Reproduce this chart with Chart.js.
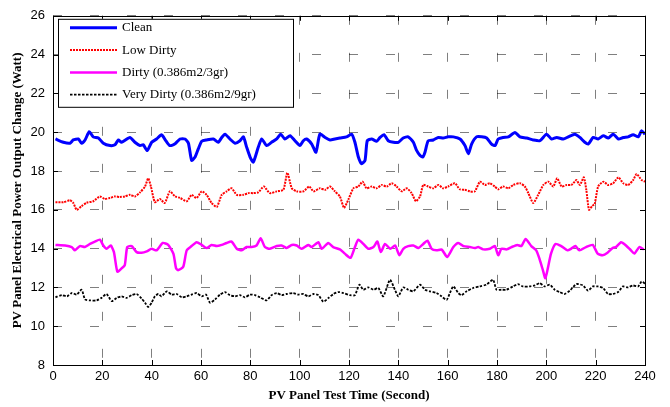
<!DOCTYPE html>
<html lang="en">
<head>
<meta charset="UTF-8">
<title>PV Panel Power Output</title>
<script src="https://cdn.jsdelivr.net/npm/chart.js"></script>
<style>
    body { margin: 0; background: #fff; }
    #wrap { width: 670px; height: 407px; }
</style>
</head>
<body>
<div id="wrap"><canvas id="pvChart" width="670" height="407"></canvas></div>
<script>
// readings taken off the original plot: time (s) and power (W) per panel state
const cleanT = [1,4.2,6.9,8.2,10.3,11.6,13,14.7,16.3,18.4,20.4,23.1,25.1,26.5,27.8,31.2,33.2,35.3,36.6,38.2,40,42,44,45.8,47.4,49.5,51.5,53.5,54.9,56.2,57.6,58.9,60.3,62.3,65,67,68.4,69.7,71.7,73.8,75.8,77.2,78.5,79.9,81.2,83.2,84.6,86.6,88.6,90.7,92.3,94,96.1,98.1,100.1,101.5,102.8,104.9,106.6,108.2,110.3,112.3,114.3,116.3,119,121.1,122.4,123.8,125.1,126.5,127.4,129.2,131.2,132.6,134.2,135.9,138,140,142,144,146.1,147.4,148.8,149.9,150.8,152.1,154.2,156.2,158.2,160.2,162.3,165,167,168.4,169.7,171.7,173.8,175.8,177.8,179.2,180.5,182.5,184.6,187.3,189.3,192,194.7,197.4,200.1,202.1,204.2,206.9,208.9,211.6,213.6,215.6,217,219,221,223.1,225.1,227.1,229.2,231.2,233.2,235.2,237.3,238.6,240];
const cleanW = [19.65,19.48,19.43,19.6,19.65,19.43,19.6,20.03,19.76,19.7,19.43,19.31,19.35,19.6,19.48,19.73,19.48,19.31,19.35,19.05,19.48,19.65,19.87,19.55,19.31,19.4,19.65,19.65,19.43,18.55,18.72,19.14,19.53,19.6,19.65,19.48,19.73,19.9,19.65,19.43,19.56,19.76,19.23,18.72,18.46,19.22,19.65,19.31,19.48,19.65,19.9,19.65,19.82,19.56,19.31,19.56,19.65,19.39,18.97,19.9,19.73,19.6,19.65,19.7,19.76,19.9,19.48,18.72,18.38,18.55,19.56,19.65,19.53,19.73,19.87,19.56,19.48,19.48,19.7,19.76,19.48,19.06,18.8,18.72,18.97,19.56,19.6,19.73,19.7,19.76,19.76,19.65,19.31,18.89,19.39,19.76,19.76,19.7,19.39,19.31,19.65,19.73,19.76,19.98,19.76,19.7,19.6,19.56,19.9,19.65,19.73,19.65,19.76,19.9,19.73,19.48,19.39,19.73,19.65,19.82,19.7,19.9,19.65,19.73,19.76,19.87,19.76,20.07,19.9];

const lowT = [1,4.2,6.9,8.2,9.6,11.6,13.6,16.3,19,21,23.1,25.1,27.1,29.1,31.2,33.2,35.3,37.3,38.6,39.7,41.3,43.3,45.3,47.4,49.5,51.5,54.2,56.2,58.2,60.3,62.3,64.3,66.4,68.4,70.4,72.4,74.5,77.2,79.2,81.2,83.2,85.5,87.9,90.7,93.4,95,96.8,98.8,101.5,103.9,105.6,108.2,110.3,112.3,114.3,116.3,118,119.7,121.8,123.8,125.5,127.1,129.2,131.2,133.3,135.3,137.3,139.3,141.4,143.4,145.4,147.1,148.8,150.1,152.1,154.2,156.2,158.2,160.2,162.9,164.9,167,169,171,173.1,175.1,177.1,179.1,180.5,182.5,184.6,186.6,189.3,191.3,192.7,194.7,196.7,198.8,200.8,202.8,204.4,206.2,208.2,210.2,212.2,213.6,215.2,216.2,217.3,218.6,219.6,221,223.1,225.1,227.1,229.2,231.2,233.2,235.2,236.6,238.6,240];
const lowW = [16.39,16.39,16.49,16.36,16.0,16.19,16.36,16.44,16.69,16.56,16.61,16.69,16.66,16.69,16.77,16.69,16.9,17.2,17.62,17.2,16.39,16.56,16.35,16.95,16.69,16.61,16.44,16.77,16.61,16.95,16.77,16.35,16.15,16.77,16.95,17.11,16.77,16.77,16.86,16.86,16.9,17.2,16.86,16.95,17.03,17.91,17.11,16.95,16.95,17.2,16.95,17.11,17.03,17.2,16.95,16.69,16.1,16.52,17.11,17.2,17.45,17.11,17.2,17.11,17.28,17.2,17.37,17.2,16.95,17.11,16.86,16.44,16.69,17.28,17.2,17.11,17.28,17.11,17.2,17.37,17.06,17.03,16.95,16.95,17.45,17.28,17.37,17.2,17.06,17.2,17.11,17.28,17.37,17.2,16.86,16.35,16.77,17.28,17.45,17.2,17.62,17.2,17.28,17.28,17.53,17.28,17.67,17.03,16.0,16.2,16.3,17.2,17.45,17.28,17.37,17.67,17.37,17.28,17.53,17.84,17.54,17.45];

const dirtyT = [1,4.9,7.6,8.9,10.9,12.9,15,17,19,20.4,21.7,23.4,24.7,26.1,27.8,29.1,30.1,31.9,33.9,35.9,38,40,42,44.5,46.7,48.8,49.9,50.8,52.8,54.2,56.2,58.2,60.3,62.3,64.3,66.4,68.4,70.4,72.4,74.5,76.5,78.5,80.5,82.5,84.2,85.9,87.9,90.7,92.7,94.7,96.8,98.8,100.8,103.5,104.9,107.6,108.9,111.6,113.6,116.3,118.3,120.6,122.4,123.8,125.8,127.8,129.9,131.5,132.9,134.6,136.7,138.7,140.4,142,144,146.1,148.1,150.1,151.8,153.5,155.5,157.6,159.8,162.3,164.3,166.4,169,171,172.4,174.4,177.1,179.1,180.5,181.8,183.9,185.9,188.2,189.9,191.6,193.9,195.9,197.2,198.6,199.6,200.6,201.9,203.7,206,208.6,210,211.8,213.4,216.1,218.8,220.8,222.8,224.8,226.9,228.2,230.3,232.3,234.3,235.7,237.7,239.5];
const dirtyW = [14.19,14.16,14.08,13.91,14.13,14.08,14.24,14.36,14.46,14.16,13.99,14.16,13.82,12.81,12.98,13.15,14.08,14.13,13.82,13.79,13.86,13.99,13.91,14.29,14.19,13.74,12.98,12.89,13.06,13.91,14.13,14.33,14.19,14.03,14.19,14.13,14.19,14.29,14.36,13.99,13.91,14.08,14.08,14.16,14.53,14.08,13.99,14.13,14.16,14.03,14.19,14.16,13.99,14.19,14.08,14.33,13.99,14.29,14.08,13.96,13.74,13.52,14.08,14.46,14.24,13.99,14.08,14.36,13.82,14.24,13.99,14.16,13.66,13.99,14.13,14.16,14.03,14.24,14.41,13.99,13.91,13.95,13.57,14.08,14.29,14.13,14.08,14.03,14.08,13.96,13.99,14.13,13.66,13.99,13.96,14.08,14.19,14.13,14.5,14.13,13.91,13.48,12.89,12.47,12.98,13.74,14.24,14.13,13.91,13.99,14.13,13.91,14.08,14.19,13.74,13.66,13.79,14.03,14.08,14.33,14.16,13.91,13.74,14.08,13.96];

const veryT = [1,3.6,5.7,7.6,9.6,11.6,13,15,17.7,19.7,21.7,23.8,25.8,27.8,29.8,31.9,33.9,35.9,37.3,38.6,40,41.3,42.7,44,46.1,48.1,50.1,52.2,54.2,56.2,58.2,60.3,62,63.7,65.7,67.7,69.7,71.7,73.8,75.8,77.8,79.9,81.9,83.9,86.6,88.6,90.7,92.7,94.7,97.4,99.4,101.5,103.5,105.6,107.6,109.6,111.7,113.7,115.7,117.7,120.4,122.4,124.2,125.8,127.8,129.9,131.9,133.9,136.6,138.6,140,142,144,146.1,148.8,150.8,152.8,155.5,157.5,159.6,160.9,162.3,164.3,165.6,167.7,170.3,173,175.7,178.4,179.8,181.8,183.8,186.5,188.5,190.5,193.2,195.3,197.3,199.3,201.4,203.4,205.4,207.4,209.5,212.2,214.9,216.9,218.9,220.9,223,225,227,229.1,231.1,233.1,235.1,237.2,238.6,240];
const veryW = [11.49,11.6,11.54,11.71,11.63,11.88,11.38,11.33,11.33,11.46,11.66,11.29,11.46,11.54,11.46,11.6,11.66,11.43,11.21,10.99,11.21,11.54,11.66,11.54,11.8,11.63,11.66,11.49,11.54,11.63,11.71,11.54,11.63,11.21,11.38,11.63,11.76,11.6,11.54,11.6,11.49,11.63,11.6,11.49,11.33,11.6,11.71,11.6,11.66,11.71,11.63,11.66,11.54,11.66,11.6,11.26,11.46,11.66,11.76,11.71,11.6,11.6,12.14,11.88,12.0,11.88,11.97,11.54,12.39,11.88,11.54,12.0,11.88,11.8,12.14,11.88,11.8,11.71,11.54,11.36,11.71,12.05,11.71,11.6,11.8,11.97,12.05,12.14,12.39,11.88,11.88,11.88,12.05,12.17,12.05,12.05,12.1,12.22,12.05,12.14,11.88,11.76,11.66,11.83,12.17,12.1,11.83,12.05,12.05,11.97,11.66,11.66,11.76,12.05,12.0,12.1,12.05,12.3,12.2];

const seriesNames = ['Clean', 'Low Dirty', 'Dirty (0.386m2/3gr)', 'Very Dirty (0.386m2/9gr)'];

// axis ranges / tick steps
const xMin = 0, xMax = 240, xStep = 20;
const yMin = 8, yMax = 26, yStep = 2;

function pts(t, w) {
    return t.map((v, i) => ({ x: v, y: w[i] }));
}

const serif = '"Liberation Serif", "Times New Roman", serif';
const sans = '"Liberation Sans", Arial, sans-serif';

// box, inward ticks and legend, drawn the matlab way
const frame = {
    id: 'frame',
    afterDatasetsDraw(chart) {
        const { ctx, chartArea: a, scales } = chart;
        ctx.save();
        ctx.strokeStyle = '#000';
        ctx.lineWidth = 1;
        ctx.setLineDash([]);
        ctx.strokeRect(Math.round(a.left) + 0.5, Math.round(a.top) + 0.5,
            Math.round(a.right - a.left), Math.round(a.bottom - a.top));

        ctx.beginPath();
        scales.x.ticks.forEach(t => {
            const px = Math.round(scales.x.getPixelForValue(t.value)) + 0.5;
            ctx.moveTo(px, a.bottom); ctx.lineTo(px, a.bottom - 5);
            ctx.moveTo(px, a.top); ctx.lineTo(px, a.top + 5);
        });
        scales.y.ticks.forEach(t => {
            const py = Math.round(scales.y.getPixelForValue(t.value)) + 0.5;
            ctx.moveTo(a.left, py); ctx.lineTo(a.left + 5, py);
            ctx.moveTo(a.right, py); ctx.lineTo(a.right - 5, py);
        });
        ctx.stroke();

        // legend box
        const lx = a.left + 5, ly = a.top + 3, lw = 235, lh = 88;
        ctx.fillStyle = '#fff';
        ctx.fillRect(lx, ly, lw, lh);
        ctx.strokeRect(lx + 0.5, ly + 0.5, lw, lh);
        ctx.font = '13px ' + serif;
        ctx.textBaseline = 'middle';
        chart.data.datasets.forEach((ds, i) => {
            const ry = ly + 9 + i * 22.3;
            ctx.beginPath();
            ctx.strokeStyle = ds.borderColor;
            ctx.lineWidth = ds.borderWidth;
            ctx.setLineDash(ds.borderDash || []);
            ctx.moveTo(lx + 12, ry);
            ctx.lineTo(lx + 59, ry);
            ctx.stroke();
            ctx.setLineDash([]);
            ctx.fillStyle = '#000';
            ctx.fillText(ds.label, lx + 64, ry);
        });
        ctx.restore();
    }
};

new Chart(document.getElementById('pvChart'), {
    type: 'line',
    data: {
        datasets: [
            { label: seriesNames[0], data: pts(cleanT, cleanW), borderColor: '#0000ff', borderWidth: 3 },
            { label: seriesNames[1], data: pts(lowT, lowW), borderColor: '#ff0000', borderWidth: 2, borderDash: [2, 1] },
            { label: seriesNames[2], data: pts(dirtyT, dirtyW), borderColor: '#ff00ff', borderWidth: 2.5 },
            { label: seriesNames[3], data: pts(veryT, veryW), borderColor: '#000000', borderWidth: 1.8, borderDash: [2.5, 1.5] }
        ]
    },
    options: {
        responsive: false,
        animation: false,
        layout: { padding: { top: 10, right: 25, left: 0, bottom: 0 } },
        elements: {
            point: { radius: 0 },
            line: { tension: 0.2, fill: false }
        },
        plugins: {
            legend: { display: false },
            tooltip: { enabled: false }
        },
        scales: {
            x: {
                type: 'linear',
                min: xMin, max: xMax,
                afterFit: s => { s.height = 42; },
                ticks: { stepSize: xStep, color: '#000', padding: 4, font: { family: sans, size: 13 } },
                grid: { color: 'rgba(0,0,0,0.5)', lineWidth: 1, drawTicks: false },
                border: { display: false, dash: [9, 28] },
                title: {
                    display: true,
                    text: 'PV Panel Test Time (Second)',
                    color: '#000',
                    padding: { top: 0, bottom: 4 },
                    font: { family: serif, size: 13, weight: 'bold' }
                }
            },
            y: {
                min: yMin, max: yMax,
                afterFit: s => { s.width = 53; },
                ticks: { stepSize: yStep, color: '#000', padding: 8, font: { family: sans, size: 13 } },
                grid: { color: 'rgba(0,0,0,0.5)', lineWidth: 1, drawTicks: false },
                border: { display: false, dash: [9, 28] },
                title: {
                    display: true,
                    text: 'PV Panel Electrical Power Output Change (Watt)',
                    color: '#000',
                    padding: { top: 10, bottom: 0 },
                    font: { family: serif, size: 13, weight: 'bold' }
                }
            }
        }
    },
    plugins: [frame]
});
</script>
</body>
</html>
